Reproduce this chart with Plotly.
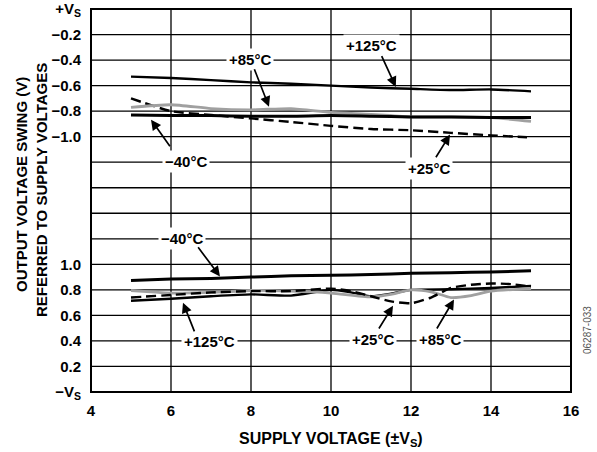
import plotly.graph_objects as go

# ---- data ----
# Upper group: output swing referred to +VS (volts, negative)
x_up_125 = [5, 6, 7, 8, 9, 10, 11, 12, 13, 14, 15]
v_up_125 = [-0.53, -0.54, -0.557, -0.575, -0.585, -0.60, -0.615, -0.625, -0.635, -0.63, -0.645]
x_up_85 = [5, 6, 7, 8, 9, 10, 11, 12, 13, 14, 15]
v_up_85 = [-0.77, -0.75, -0.78, -0.79, -0.78, -0.81, -0.825, -0.845, -0.845, -0.85, -0.88]
x_up_m40 = [5, 6, 7, 8, 9, 10, 11, 12, 13, 14, 15]
v_up_m40 = [-0.83, -0.835, -0.835, -0.84, -0.84, -0.835, -0.84, -0.845, -0.845, -0.85, -0.85]
x_up_25 = [5, 6, 7, 8, 9, 10, 11, 12, 13, 14, 14.9]
v_up_25 = [-0.70, -0.80, -0.83, -0.857, -0.885, -0.915, -0.94, -0.95, -0.97, -0.99, -1.005]

# Lower group: output swing referred to -VS (volts, positive)
x_lo_m40 = [5, 6, 7, 8, 9, 10, 11, 12, 13, 14, 15]
v_lo_m40 = [0.873, 0.885, 0.89, 0.90, 0.91, 0.915, 0.92, 0.93, 0.935, 0.94, 0.95]
x_lo_125 = [5, 6, 7, 8, 9, 10, 10.5, 11, 11.5, 12, 13, 14, 15]
v_lo_125 = [0.715, 0.73, 0.75, 0.765, 0.755, 0.80, 0.78, 0.75, 0.77, 0.80, 0.805, 0.815, 0.83]
x_lo_25 = [5, 6, 7, 8, 9, 10, 10.5, 11, 11.5, 12, 12.5, 13, 13.5, 14, 14.5, 15]
v_lo_25 = [0.74, 0.76, 0.78, 0.79, 0.79, 0.81, 0.79, 0.75, 0.71, 0.695, 0.74, 0.815, 0.84, 0.85, 0.845, 0.825]
x_lo_85 = [5, 5.5, 6, 7, 8, 9, 10, 11, 11.5, 12, 12.5, 13, 13.5, 14, 15]
v_lo_85 = [0.795, 0.785, 0.775, 0.78, 0.795, 0.79, 0.775, 0.745, 0.765, 0.80, 0.785, 0.74, 0.755, 0.79, 0.81]

# Axis ticks
y_tick_vals = [0.0, 0.2, 0.4, 0.6, 0.8, 1.0, 1.2, 1.4, 1.6, 1.8, 2.0, 2.2, 2.4, 2.6, 2.8, 3.0]
y_tick_text = ["−V<sub>S</sub>", "0.2", "0.4", "0.6", "0.8", "1.0", " ", " ", " ", " ",
               "−1.0", "−0.8", "−0.6", "−0.4", "−0.2", "+V<sub>S</sub>"]
x_tick_vals = [4, 6, 8, 10, 12, 14, 16]

TOP = 3.0  # plot-units height of the full +VS .. -VS span

FONT = "Arial, Liberation Sans, Helvetica, sans-serif"

fig = go.Figure()

def add(x, y, color, dash="solid", width=2.6):
    fig.add_trace(go.Scatter(x=x, y=y, mode="lines",
                             line=dict(color=color, width=width, dash=dash, shape="spline", smoothing=0.6),
                             showlegend=False, hoverinfo="skip"))

DASH = "10px,5px"
# upper group
add(x_up_125, [TOP + v for v in v_up_125], "black", width=2.4)
add(x_up_25, [TOP + v for v in v_up_25], "black", dash=DASH, width=2.4)
add(x_up_85, [TOP + v for v in v_up_85], "#a0a0a0", width=2.8)
add(x_up_m40, [TOP + v for v in v_up_m40], "black", width=3.0)
# lower group
add(x_lo_m40, v_lo_m40, "black", width=3.0)
add(x_lo_125, v_lo_125, "black", width=2.4)
add(x_lo_85, v_lo_85, "#a0a0a0", width=2.8)
add(x_lo_25, v_lo_25, "black", dash=DASH, width=2.4)

# labels (text, x, y) and arrows (tail x, tail y, tip x, tip y)
labels = [
    ("+125°C", 11.02, 2.716),
    ("+85°C", 7.97, 2.605),
    ("−40°C", 6.38, 1.805),
    ("+25°C", 12.45, 1.75),
    ("−40°C", 6.28, 1.205),
    ("+125°C", 6.95, 0.395),
    ("+25°C", 11.05, 0.41),
    ("+85°C", 12.72, 0.41),
]
arrows = [
    (11.25, 2.643, 11.62, 2.39),
    (8.07, 2.54, 8.45, 2.235),
    (6.0, 1.914, 5.5, 2.133),
    (12.6, 1.827, 12.975, 2.016),
    (6.65, 1.145, 7.225, 0.905),
    (6.6, 0.463, 6.3, 0.70),
    (11.175, 0.486, 11.55, 0.675),
    (12.625, 0.486, 13.075, 0.725),
]

W, H = 597, 452
L, R, T, B = 91, 26, 9, 60
pw, ph = W - L - R, H - T - B

def px(xp):
    return (xp - L) / pw

def py(yp):
    return (H - B - yp) / ph

# grid and frame as shapes
for xv in x_tick_vals[1:-1]:
    fig.add_shape(type="line", xref="x", yref="paper", x0=xv, x1=xv, y0=0, y1=1,
                  line=dict(color="black", width=1.3), layer="below")
for yv in y_tick_vals[1:-1]:
    fig.add_shape(type="line", xref="paper", yref="y", x0=0, x1=1, y0=yv, y1=yv,
                  line=dict(color="black", width=1.3), layer="below")
fig.add_shape(type="rect", xref="paper", yref="paper", x0=0, x1=1, y0=0, y1=1,
              line=dict(color="black", width=2), layer="above")

for t, x, y in labels:
    fig.add_annotation(x=x, y=y, xref="x", yref="y", text="<b>" + t + "</b>", showarrow=False,
                       font=dict(family=FONT, size=15, color="black"),
                       bgcolor="white", borderpad=2, xanchor="center", yanchor="middle")
for tx, ty, hx, hy in arrows:
    fig.add_annotation(x=hx, y=hy, ax=tx, ay=ty, xref="x", yref="y", axref="x", ayref="y",
                       text="", showarrow=True, arrowhead=2, arrowsize=1.2, arrowwidth=1.7,
                       arrowcolor="black", standoff=0)

# axis titles
fig.add_annotation(x=px(21), y=py(185), xref="paper", yref="paper",
                   text="<b>OUTPUT VOLTAGE SWING (V)</b>", xanchor="center", yanchor="middle",
                   showarrow=False, textangle=-90, font=dict(family=FONT, size=15, color="black"))
fig.add_annotation(x=px(41), y=py(190), xref="paper", yref="paper",
                   text="<b>REFERRED TO SUPPLY VOLTAGES</b>", xanchor="center", yanchor="middle",
                   showarrow=False, textangle=-90, font=dict(family=FONT, size=15, color="black"))
fig.add_annotation(x=px(331), y=py(439), xref="paper", yref="paper",
                   text="<b>SUPPLY VOLTAGE (±V<sub>S</sub>)</b>", xanchor="center", yanchor="middle",
                   showarrow=False, font=dict(family=FONT, size=16, color="black"))
fig.add_annotation(x=px(587), y=py(330), xref="paper", yref="paper", text="06287-033",
                   xanchor="center", yanchor="middle",
                   showarrow=False, textangle=-90, font=dict(family=FONT, size=10, color="#555555"))

fig.update_layout(
    width=W, height=H,
    margin=dict(l=L, r=R, t=T, b=B, autoexpand=False),
    paper_bgcolor="white", plot_bgcolor="white",
    font=dict(family=FONT, size=15, color="black"),
    xaxis=dict(range=[4, 16], tickmode="array", tickvals=x_tick_vals,
               ticktext=["<b>%d</b>" % v for v in x_tick_vals],
               showgrid=False, zeroline=False, showline=False,
               ticks="outside", ticklen=5, tickcolor="rgba(0,0,0,0)",
               tickfont=dict(family=FONT, size=15, color="black"), automargin=False),
    yaxis=dict(range=[0, TOP], tickmode="array", tickvals=y_tick_vals,
               ticktext=["<b>" + t + "</b>" for t in y_tick_text], showgrid=False,
               zeroline=False, showline=False, ticks="outside", ticklen=6,
               tickcolor="rgba(0,0,0,0)",
               tickfont=dict(family=FONT, size=15, color="black"), automargin=False),
)

fig.write_html("out.html", config={"displayModeBar": False},
               post_script="document.body.style.margin='0px';")
